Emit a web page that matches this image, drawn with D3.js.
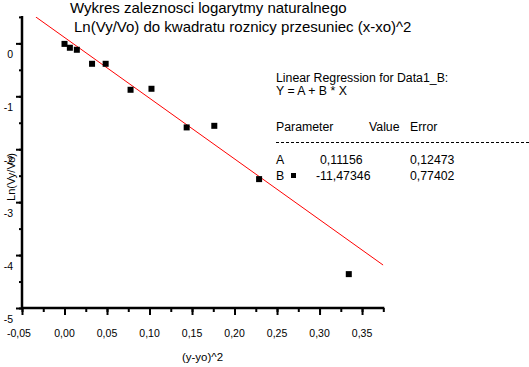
<!DOCTYPE html>
<html>
<head>
<meta charset="utf-8">
<script src="https://cdn.jsdelivr.net/npm/d3@7/dist/d3.min.js"></script>
<style>
  html, body { margin: 0; padding: 0; background: #fff; }
  svg { display: block; }
  text { font-family: "Liberation Sans", Arial, sans-serif; fill: #000; }
</style>
</head>
<body>
<svg id="chart" width="529" height="367"></svg>
<script>
// ---- data ----
const xValues = [0.000, 0.0063, 0.0145, 0.0324, 0.0484, 0.0777, 0.1023, 0.1437, 0.1762, 0.2289, 0.3344];
const yValues = [-0.01, -0.083, -0.121, -0.386, -0.386, -0.877, -0.858, -1.588, -1.558, -2.565, -4.36];
const xTickValues = [-0.05, 0.00, 0.05, 0.10, 0.15, 0.20, 0.25, 0.30, 0.35];
const yTickValues = [0, -1, -2, -3, -4, -5];
const paramNames = ["A", "B"];
const paramValues = ["0,11156", "-11,47346"];
const paramErrors = ["0,12473", "0,77402"];
const fitA = 0.11156;
const fitB = -11.47346;
const titleLines = ["Wykres zaleznosci logarytmy naturalnego", "Ln(Vy/Vo) do kwadratu roznicy przesuniec (x-xo)^2"];

// ---- layout ----
const svg = d3.select("#chart");
const x = d3.scaleLinear().domain([-0.05, 0.375]).range([22, 383.3]);
const y = d3.scaleLinear().domain([-5, 0.5]).range([308, 16.9]);
const fmtComma = d => d3.format(".2f")(d).replace(".", ",").replace("−", "-");

// title
svg.append("text").attr("x", 70).attr("y", 12.5).style("font-size", "15px").text(titleLines[0]);
svg.append("text").attr("x", 74).attr("y", 32).style("font-size", "15px").text(titleLines[1]);

// regression line (clipped to plot)
svg.append("clipPath").attr("id", "plotclip")
  .append("rect").attr("x", x(-0.05)).attr("y", y(0.5)).attr("width", x(0.375) - x(-0.05)).attr("height", y(-5) - y(0.5));
const xLineStart = (0.5 - fitA) / fitB;
const xLineEnd = 0.375;
svg.append("line")
  .attr("clip-path", "url(#plotclip)")
  .attr("x1", x(xLineStart)).attr("y1", y(fitA + fitB * xLineStart))
  .attr("x2", x(xLineEnd)).attr("y2", y(fitA + fitB * xLineEnd))
  .attr("stroke", "#ff0000").attr("stroke-width", 1);

// points
svg.selectAll("rect.pt").data(xValues.map((d, i) => [d, yValues[i]])).enter()
  .append("rect").attr("class", "pt")
  .attr("x", d => x(d[0]) - 3).attr("y", d => y(d[1]) - 3)
  .attr("width", 6).attr("height", 6).attr("fill", "#000");

// x axis
const xAxisG = svg.append("g").attr("transform", `translate(0,${y(-5)})`);
xAxisG.call(d3.axisBottom(x).tickValues(d3.range(-0.05, 0.376, 0.025)).tickSize(4).tickFormat(""));
xAxisG.call(g => g.selectAll(".tick line").attr("stroke-width", 2));
xAxisG.append("g").call(d3.axisBottom(x).tickValues(xTickValues).tickSize(7).tickFormat(""))
  .call(g => g.selectAll(".tick line").attr("stroke-width", 2))
  .call(g => g.select(".domain").remove());
xAxisG.select(".domain").attr("stroke-width", 2.5).attr("d", `M${x(-0.05)},0H${x(0.375) + 1}`);
xAxisG.selectAll("text.xl").data(xTickValues).enter().append("text").attr("class", "xl")
  .attr("x", d => x(d) - (d < 0 ? 3 : 0)).attr("y", 28.5)
  .attr("text-anchor", "middle").style("font-size", "10.5px")
  .text(d => fmtComma(d));

// y axis
const yAxisG = svg.append("g").attr("transform", `translate(${x(-0.05)},0)`);
yAxisG.call(d3.axisLeft(y).tickValues(d3.range(-5, 0.51, 0.5)).tickSize(3).tickFormat(""));
yAxisG.call(g => g.selectAll(".tick line").attr("stroke-width", 2));
yAxisG.append("g").call(d3.axisLeft(y).tickValues(yTickValues).tickSize(6).tickFormat(""))
  .call(g => g.selectAll(".tick line").attr("stroke-width", 2))
  .call(g => g.select(".domain").remove());
yAxisG.select(".domain").attr("stroke-width", 2.5).attr("d", `M0,${y(0.5) - 1}V${y(-5)}`);
yAxisG.selectAll("text.yl").data(yTickValues).enter().append("text").attr("class", "yl")
  .attr("x", -9).attr("y", d => y(d) + 14.5)
  .attr("text-anchor", "end").style("font-size", "10.5px")
  .text(d => String(d));

// axis titles
svg.append("text").attr("transform", "translate(15,177) rotate(-90)")
  .attr("text-anchor", "middle").style("font-size", "11px").text("Ln(Vy/Vo)");
svg.append("text").attr("x", 202.5).attr("y", 361)
  .attr("text-anchor", "middle").style("font-size", "11.5px").text("(y-yo)^2");

// regression box
const lx = 276;
const fs = "12.3px";
svg.append("text").attr("x", lx).attr("y", 82).style("font-size", fs).text("Linear Regression for Data1_B:");
svg.append("text").attr("x", lx).attr("y", 95).style("font-size", fs).text("Y = A + B * X");
svg.append("text").attr("x", lx).attr("y", 131).style("font-size", fs).text("Parameter");
svg.append("text").attr("x", 369).attr("y", 131).style("font-size", fs).text("Value");
svg.append("text").attr("x", 410).attr("y", 131).style("font-size", fs).text("Error");
svg.append("line").attr("x1", lx).attr("x2", 529).attr("y1", 142.5).attr("y2", 142.5)
  .attr("stroke", "#000").attr("stroke-width", 1).attr("stroke-dasharray", "3,2");
paramNames.forEach((n, i) => {
  const by = 163.5 + i * 16;
  svg.append("text").attr("x", lx).attr("y", by).style("font-size", fs).text(n);
  svg.append("text").attr("x", 320 - (i === 1 ? 4 : 0)).attr("y", by).style("font-size", fs).text(paramValues[i]);
  svg.append("text").attr("x", 410).attr("y", by).style("font-size", fs).text(paramErrors[i]);
});
svg.append("rect").attr("x", 291).attr("y", 173).attr("width", 5).attr("height", 5).attr("fill", "#000");
</script>
</body>
</html>
